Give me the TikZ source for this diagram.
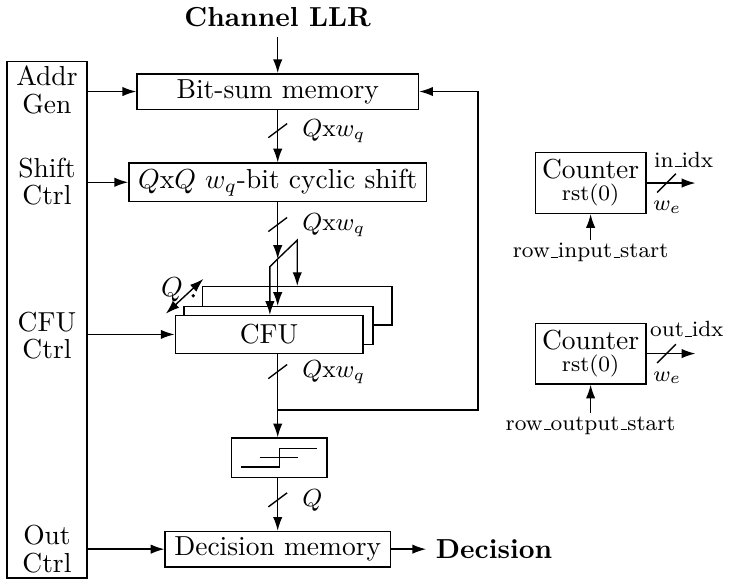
\documentclass[tikz,border=0pt]{standalone}
\usetikzlibrary{positioning,arrows.meta}

\newcommand{\us}{\leavevmode\kern.06em\vbox{\hrule width.3em}}

\tikzset{
  blk/.style={draw, fill=white, inner xsep=3.33pt, inner ysep=2pt},
  ctltxt/.style={align=center, inner sep=1pt},
  cnt/.style={draw, align=center, inner sep=2.5pt},
  buslbl/.style={right, font=\small, inner sep=1pt},
  idxlbl/.style={font=\footnotesize, inner sep=1pt}
}

\begin{document}
\begin{tikzpicture}[>={Latex[length=5pt,width=3.4pt]}, line width=0.5pt]
  \useasboundingbox (0,0) rectangle (9.37,7.44);

  % control column
  \node[draw, minimum width=1.02cm, minimum height=6.6cm] (ctrl) at (0.6,3.35) {};
  \node[ctltxt] (addr) at (0.6,6.29) {Addr\\[-2pt]Gen};
  \node[ctltxt] (shiftctl) at (0.6,5.12) {Shift\\[-2pt]Ctrl};
  \node[ctltxt] (cfuctl) at (0.6,3.15) {CFU\\[-2pt]Ctrl};
  \node[ctltxt] (outctl) at (0.6,0.42) {Out\\[-2pt]Ctrl};

  % datapath
  \node[font=\bfseries] (llr) at (3.55,7.22) {Channel LLR};
  \node[blk, minimum width=3.6cm] (bitsum) at (3.55,6.27) {Bit-sum memory};
  \node[blk] (shift) at (3.55,5.11) {$Q$x$Q$ $w_q$-bit cyclic shift};

  \node[blk, minimum width=2.42cm, minimum height=0.49cm] (cfuc) at (3.80,3.53) {};
  \node[blk, minimum width=2.42cm, minimum height=0.48cm] (cfub) at (3.56,3.28) {};
  \node[blk, minimum width=2.40cm, minimum height=0.48cm] (cfua) at (3.44,3.165) {CFU};

  \node[blk, minimum width=1.22cm, minimum height=0.5cm] (thr) at (3.57,1.59) {};
  \draw ([shift={(-0.49,-0.12)}]thr.center) -- ++(0.49,0) -- ++(0,0.24) -- ++(0.48,0);
  \draw ([shift={(-0.25,0)}]thr.center) -- ++(0.49,0);

  \node[blk] (dec) at (3.55,0.42) {Decision memory};
  \node[font=\bfseries, right=0.45cm of dec] (decout) {Decision};

  % bus points
  \coordinate (s1) at (3.55,5.77);
  \coordinate (s2) at (3.55,4.57);
  \coordinate (s3) at (3.55,2.69);
  \coordinate (s4) at (3.55,1.05);
  \coordinate (jp) at (3.55,4.13);
  \coordinate (up) at (3.80,4.37);
  \coordinate (lo) at (3.45,4.03);
  \coordinate (jn) at (3.55,2.20);
  \coordinate (fb) at (6.11,2.20);

  \draw[->] (llr) -- (bitsum);
  \draw[->] (bitsum) -- (shift);
  \draw (s1) +(-0.12,-0.09) -- +(0.12,0.09);
  \node[buslbl] (b1) at (3.82,5.76) {$Q$x$w_q$};

  \draw[->] (shift) -- (jp);
  \draw (s2) +(-0.12,-0.09) -- +(0.12,0.09);
  \node[buslbl] (b2) at (3.82,4.56) {$Q$x$w_q$};
  \draw[->] (jp) -- (jp |- cfub.north);
  \draw[->] (jp) -- (up) -- (up |- cfuc.north);
  \draw[->] (jp) -- (lo) -- (lo |- cfua.north);

  % Q copies
  \coordinate (qa) at (2.12,3.43);
  \coordinate (qb) at (2.60,3.875);
  \draw[<->] (qa) -- (qb);
  \node (qlbl) at (2.20,3.74) {$Q$};
  \fill (2.47,3.66) circle (0.7pt);

  \draw (cfua.south -| jn) -- (jn);
  \draw (s3) +(-0.12,-0.09) -- +(0.12,0.09);
  \node[buslbl] (b3) at (3.82,2.68) {$Q$x$w_q$};
  \draw[->] (jn) -- (thr.north -| jn);
  \draw[->] (jn) -- (fb) |- (bitsum.east);

  \draw[->] (thr.south -| dec) -- (dec);
  \draw (s4) +(-0.12,-0.09) -- +(0.12,0.09);
  \node[buslbl] (b4) at (3.82,1.04) {$Q$};
  \draw[->] (dec) -- (decout);

  % control arrows
  \draw[->] (ctrl.east |- bitsum) -- (bitsum);
  \draw[->] (ctrl.east |- shift) -- (shift);
  \draw[->] (ctrl.east |- cfua) -- (cfua);
  \draw[->] (ctrl.east |- dec) -- (dec);

  % counters
  \node[cnt] (cntin) at (7.55,5.10) {Counter\\[-4pt]{\footnotesize rst(0)}};
  \node[idxlbl] (rowin) at (7.55,4.21) {row\us input\us start};
  \coordinate (inend) at (8.89,5.10);
  \draw[->] (rowin) -- (cntin);
  \draw[->] (cntin) -- (inend);
  \draw (8.52,5.10) +(-0.12,-0.12) -- +(0.12,0.12);
  \node[idxlbl] (inidx) at (8.74,5.40) {in\us idx};
  \node[idxlbl] (win) at (8.53,4.79) {$w_e$};

  \node[cnt] (cntout) at (7.55,2.92) {Counter\\[-4pt]{\footnotesize rst(0)}};
  \node[idxlbl] (rowout) at (7.55,2.00) {row\us output\us start};
  \coordinate (outend) at (8.89,2.92);
  \draw[->] (rowout) -- (cntout);
  \draw[->] (cntout) -- (outend);
  \draw (8.52,2.92) +(-0.12,-0.12) -- +(0.12,0.12);
  \node[idxlbl] (outidx) at (8.78,3.23) {out\us idx};
  \node[idxlbl] (wout) at (8.53,2.61) {$w_e$};
\end{tikzpicture}
\end{document}
